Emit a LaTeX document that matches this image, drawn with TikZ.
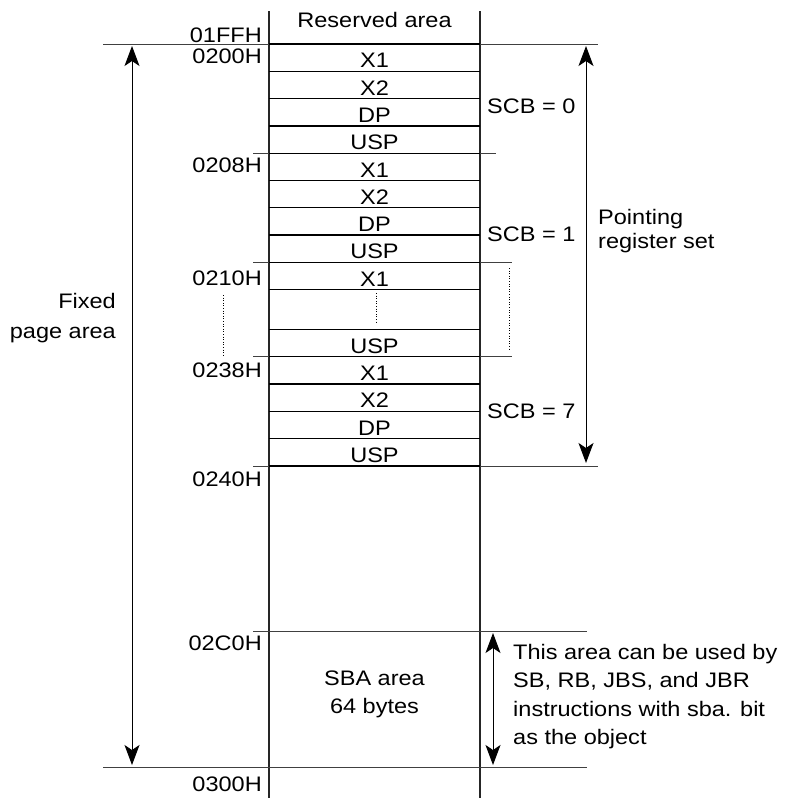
\documentclass[tikz,border=0pt]{standalone}
\usepackage{fontspec}
\setmainfont{Liberation Sans}[FakeStretch=1.12]
\usetikzlibrary{arrows.meta}

\begin{document}
\begin{tikzpicture}[x=1pt,y=-1pt,
  lbl/.style={inner sep=0pt, font=\fontsize{21}{24}\selectfont},
  addr/.style={lbl, anchor=base east},
  cell/.style={lbl, anchor=base},
  scb/.style={lbl, anchor=base west},
  rowline/.style={line width=1.3pt},
  longline/.style={line width=0.9pt, black!75},
  colline/.style={line width=1.3pt, black!85},
  dotline/.style={line width=0.9pt, dash pattern=on 1pt off 1.6pt},
  rangearrow/.style={line width=1pt,
    {Stealth[length=20pt,width=15pt,inset=5pt]}-{Stealth[length=20pt,width=15pt,inset=5pt]}}
]
\useasboundingbox (0,0) rectangle (791,798);

% memory column
\draw[colline] (269,11) -- (269,798);
\draw[colline] (480,11) -- (480,798);

% long boundary lines reaching beyond the column
\draw[longline] (103,44) -- (598,44);
\draw[longline] (253,153.2) -- (496,153.2);
\draw[longline] (253,262.4) -- (512,262.4);
\draw[longline] (253,356.7) -- (512,356.7);
\draw[longline] (253,466) -- (598,466);
\draw[longline] (253,631) -- (587,631);
\draw[longline] (103,767) -- (587,767);

% row separators inside the column
\foreach \y in {44,71.3,98.6,125.9,153.2,180.5,207.8,235.1,262.4,289.5,
                329.3,356.7,384,411.3,438.6,466}
  \draw[rowline] (269,\y) -- (480,\y);

% register cells
\foreach \t/\b/\n in {X1/71.3/a1, X2/98.6/a2, DP/125.9/a3, USP/153.2/a4,
                      X1/180.5/b1, X2/207.8/b2, DP/235.1/b3, USP/262.4/b4,
                      X1/289.5/c1, USP/356.7/c4,
                      X1/384/d1, X2/411.3/d2, DP/438.6/d3, USP/466/d4}
  \node[cell] (cell\n) at (374.5,\b-3.5) {\t};

\node[cell] (reserved) at (374.5,27) {Reserved area};

% addresses
\node[addr] (a01FF) at (262,42) {01FFH};
\node[addr] (a0200) at (262,63) {0200H};
\node[addr] (a0208) at (262,172) {0208H};
\node[addr] (a0210) at (262,285) {0210H};
\node[addr] (a0238) at (262,377) {0238H};
\node[addr] (a0240) at (262,486) {0240H};
\node[addr] (a02C0) at (262,650) {02C0H};
\node[addr] (a0300) at (262,791) {0300H};

% register set numbers
\node[scb] (scb0) at (487,113) {SCB = 0};
\node[scb] (scb1) at (487,241.5) {SCB = 1};
\node[scb] (scb7) at (487,418) {SCB = 7};

% omitted sets
\draw[dotline] (376.7,293) -- (376.7,324);
\draw[dotline] (509.5,268) -- (509.5,351);
\draw[dotline] (223.3,295) -- (223.3,355);

% ranges
\coordinate (fixTop) at (132,46);
\coordinate (fixBot) at (132,765);
\draw[rangearrow] (fixTop) -- (fixBot);
\node[lbl, anchor=north east, align=right, font=\fontsize{21}{30}\selectfont]
  (fixed) at (116,293) {Fixed\\page area};

\coordinate (ptrTop) at (586,46);
\coordinate (ptrBot) at (586,463);
\draw[rangearrow] (ptrTop) -- (ptrBot);
\node[lbl, anchor=north west, align=left, font=\fontsize{21}{24}\selectfont]
  (pointing) at (598,209) {Pointing\\register set};

\coordinate (sbaTop) at (493,633);
\coordinate (sbaBot) at (493,765);
\draw[rangearrow] (sbaTop) -- (sbaBot);
\node[lbl, anchor=north, align=center, font=\fontsize{21}{28}\selectfont]
  (sba) at (374.5,671) {SBA area\\64 bytes};
\node[lbl, anchor=north west, align=left, font=\fontsize{21}{28.5}\selectfont]
  (sbanote) at (513,644) {This area can be used by\\SB, RB, JBS, and JBR\\instructions with sba. bit\\as the object};
\end{tikzpicture}
\end{document}
